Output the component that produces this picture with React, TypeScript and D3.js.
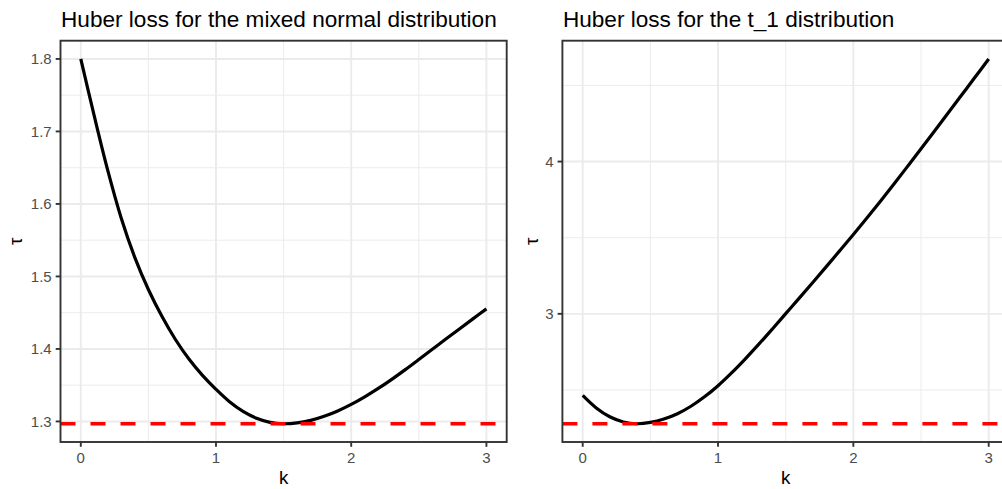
import React from "react";
import * as d3 from "d3";

// k grid shared by both panels
const kValues = [
  0, 0.1, 0.2, 0.3, 0.4, 0.5, 0.6, 0.7, 0.8, 0.9, 1.0, 1.1, 1.2, 1.3, 1.4, 1.5,
  1.6, 1.7, 1.8, 1.9, 2.0, 2.1, 2.2, 2.3, 2.4, 2.5, 2.6, 2.7, 2.8, 2.9, 3.0,
];

// tau for the mixed normal distribution
const tauMixed = [
  1.8, 1.721, 1.646, 1.58, 1.526, 1.482, 1.445, 1.413, 1.386, 1.3635, 1.3443,
  1.3272, 1.3139, 1.3044, 1.2987, 1.2968, 1.298, 1.3015, 1.3071, 1.3145, 1.3235,
  1.3339, 1.3455, 1.3581, 1.3715, 1.3854, 1.3995, 1.4136, 1.4276, 1.4415, 1.4553,
];
const minMixed = 1.2968;

// tau for the t_1 distribution
const tauT1 = [
  2.464, 2.382, 2.324, 2.29, 2.278, 2.287, 2.309, 2.344, 2.393, 2.455, 2.528,
  2.612, 2.703, 2.799, 2.899, 3.001, 3.103, 3.206, 3.31, 3.415, 3.521, 3.629,
  3.74, 3.853, 3.968, 4.084, 4.201, 4.319, 4.437, 4.555, 4.674,
];
const minT1 = 2.278;

const xTicks = [0, 1, 2, 3];
const xMinor = [0.5, 1.5, 2.5];
const yTicksMixed = [1.3, 1.4, 1.5, 1.6, 1.7, 1.8];
const yMinorMixed = [1.35, 1.45, 1.55, 1.65, 1.75];
const yTicksT1 = [3, 4];
const yMinorT1 = [2.5, 3.5, 4.5];

const FONT = "'Liberation Sans', Arial, sans-serif";

const expand = (lo: number, hi: number): [number, number] => {
  const d = (hi - lo) * 0.05;
  return [lo - d, hi + d];
};

type PanelProps = {
  title: string;
  tau: number[];
  minTau: number;
  yTicks: number[];
  yMinor: number[];
  left: number;
  right: number;
  yTitleX: number;
  fmt: (v: number) => string;
};

function Panel({ title, tau, minTau, yTicks, yMinor, left, right, yTitleX, fmt }: PanelProps) {
  const top = 40.7;
  const bottom = 442;
  const x = d3.scaleLinear().domain(expand(0, 3)).range([left, right]);
  const yExt = d3.extent([...tau, minTau]) as [number, number];
  const y = d3.scaleLinear().domain(expand(yExt[0], yExt[1])).range([bottom, top]);

  const line = d3
    .line<number>()
    .x((_, i) => x(kValues[i]))
    .y((d) => y(d))
    .curve(d3.curveCatmullRom);

  const grid = "#EBEBEB";
  return (
    <g>
      <rect x={left} y={top} width={right - left} height={bottom - top} fill="white" />
      {yMinor.map((v) => (
        <line key={"ym" + v} x1={left} x2={right} y1={y(v)} y2={y(v)} stroke={grid} strokeWidth={0.95} />
      ))}
      {xMinor.map((v) => (
        <line key={"xm" + v} x1={x(v)} x2={x(v)} y1={top} y2={bottom} stroke={grid} strokeWidth={0.95} />
      ))}
      {yTicks.map((v) => (
        <line key={"yM" + v} x1={left} x2={right} y1={y(v)} y2={y(v)} stroke={grid} strokeWidth={1.9} />
      ))}
      {xTicks.map((v) => (
        <line key={"xM" + v} x1={x(v)} x2={x(v)} y1={top} y2={bottom} stroke={grid} strokeWidth={1.9} />
      ))}
      <path d={line(tau) || ""} fill="none" stroke="black" strokeWidth={3.2} />
      <line
        x1={left}
        x2={right}
        y1={y(minTau)}
        y2={y(minTau)}
        stroke="#FF0000"
        strokeWidth={3.4}
        strokeDasharray="15 15"
      />
      <rect x={left} y={top} width={right - left} height={bottom - top} fill="none" stroke="#333333" strokeWidth={1.9} />
      {xTicks.map((v) => (
        <g key={"xt" + v}>
          <line x1={x(v)} x2={x(v)} y1={bottom} y2={bottom + 4.8} stroke="#333333" strokeWidth={1.9} />
          <text x={x(v)} y={463.3} textAnchor="middle" fontSize={15} fill="#4D4D4D" fontFamily={FONT}>
            {v}
          </text>
        </g>
      ))}
      {yTicks.map((v) => (
        <g key={"yt" + v}>
          <line x1={left - 4.8} x2={left} y1={y(v)} y2={y(v)} stroke="#333333" strokeWidth={1.9} />
          <text
            x={left - 8.8}
            y={y(v)}
            dy="0.36em"
            textAnchor="end"
            fontSize={15}
            fill="#4D4D4D"
            fontFamily={FONT}
          >
            {fmt(v)}
          </text>
        </g>
      ))}
      <text x={(left + right) / 2} y={484.3} textAnchor="middle" fontSize={18.8} fill="black" fontFamily={FONT}>
        k
      </text>
      <text
        transform={`translate(${yTitleX},${(top + bottom) / 2}) rotate(-90)`}
        dy="0.36em"
        textAnchor="middle"
        fontSize={18.8}
        fill="black"
        fontFamily={FONT}
      >
        τ
      </text>
      <text x={left + 0.5} y={26.7} fontSize={22.6} fill="black" fontFamily={FONT}>
        {title}
      </text>
    </g>
  );
}

export default function App() {
  return (
    <svg
      width={1002}
      height={489}
      style={{ position: "absolute", left: 0, top: 0, background: "white" }}
    >
      <rect width={1002} height={489} fill="white" />
      <Panel
        title="Huber loss for the mixed normal distribution"
        tau={tauMixed}
        minTau={minMixed}
        yTicks={yTicksMixed}
        yMinor={yMinorMixed}
        left={60.5}
        right={506.7}
        yTitleX={15}
        fmt={d3.format(".1f")}
      />
      <Panel
        title="Huber loss for the t_1 distribution"
        tau={tauT1}
        minTau={minT1}
        yTicks={yTicksT1}
        yMinor={yMinorT1}
        left={562.4}
        right={1009}
        yTitleX={531}
        fmt={d3.format("d")}
      />
    </svg>
  );
}
